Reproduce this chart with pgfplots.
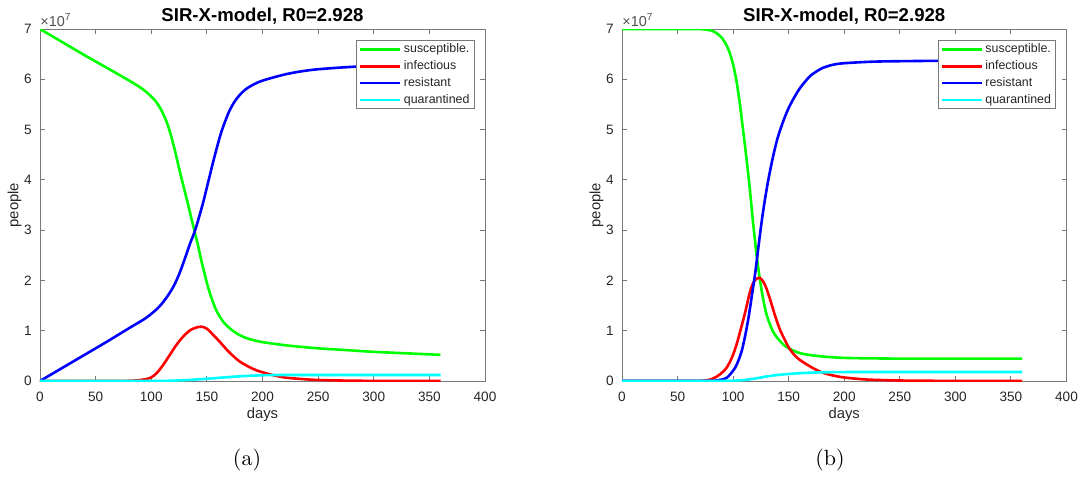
\documentclass[border=0pt]{standalone}
\usepackage{pgfplots}
\pgfplotsset{compat=1.18}
\usepackage{fontspec}
\setmainfont{Liberation Sans}
\newfontfamily\capfont{Latin Modern Roman}
\definecolor{txt}{RGB}{38,38,38}
\definecolor{boxc}{RGB}{120,120,120}
\definecolor{sgreen}{RGB}{0,255,0}
\definecolor{ired}{RGB}{255,0,0}
\definecolor{rblue}{RGB}{0,0,255}
\definecolor{qcyan}{RGB}{0,255,255}

\pgfplotsset{
  sir/.style={
    scale only axis, height=176pt, clip mode=individual,
    xmin=0, xmax=400, ymin=0, ymax=7,
    xtick={0,50,...,400}, ytick={0,1,...,7},
    tick align=inside, major tick length=2.5pt,
    axis line style={draw=boxc, line width=0.45pt},
    every tick/.style={boxc, line width=0.45pt},
    /pgf/number format/assume math mode=true,
    ticklabel style={font=\fontsize{6.8}{8}\selectfont, text=txt},
    xticklabel style={yshift=-2.2pt},
    yticklabel style={xshift=-0.6pt},
    xlabel={days}, ylabel={people},
    label style={font=\fontsize{7.4}{9}\selectfont, text=txt},
    xlabel style={at={(axis description cs:0.5,-0.096)}, anchor=center},
    ylabel style={at={(axis description cs:-0.057,0.5)}, anchor=center},
    title={SIR-X-model, R0=2.928},
    every axis title/.style={font=\bfseries\fontsize{9.3}{11}\selectfont, text=black,
      at={(axis description cs:0.5,1.037)}, anchor=center},
    legend cell align=left,
    legend image code/.code={\draw[#1] (0pt,0pt) -- (20pt,0pt);},
    legend style={at={(axis description cs:1,1)}, anchor=north east,
      xshift=-5.15pt, yshift=-5.5pt, draw=boxc, line width=0.45pt,
      font=\fontsize{6.2}{7}\selectfont, text=txt, inner xsep=1.2pt, inner ysep=0.3pt,
      nodes={text height=4.6pt, text depth=1.4pt, inner ysep=1.2pt, inner xsep=1.2pt}},
    every axis plot/.append style={line width=1.3pt},
  }
}

\begin{document}
\begin{tikzpicture}
\useasboundingbox (0,0) rectangle (540.5pt,239.5pt);

% (a)
\begin{axis}[sir, width=222.5pt, at={(20pt,49pt)}, anchor=south west]
\addplot[sgreen, smooth] coordinates {
 (0,7.0)(20,6.74)(40,6.48)(60,6.23)(75,6.04)(85,5.91)(92,5.81)(98,5.70)
 (103,5.59)(108,5.43)(113,5.20)(117,4.94)(121,4.61)(125,4.23)(129,3.87)
 (133,3.52)(136,3.24)(139,2.97)(142,2.70)(145,2.40)(148,2.13)(151,1.87)
 (155,1.60)(159,1.38)(165,1.17)(171,1.04)(178,0.93)(186,0.85)(196,0.79)
 (207,0.75)(225,0.70)(250,0.65)(275,0.615)(300,0.58)(330,0.55)(360,0.52)};
\addplot[ired, smooth] coordinates {
 (0,0)(60,0)(80,0.005)(90,0.02)(99,0.06)(105,0.16)(111,0.33)(117,0.53)
 (123,0.73)(129,0.89)(135,1.01)(140,1.06)(145,1.08)(150,1.04)(156,0.91)
 (162,0.77)(168,0.62)(174,0.49)(180,0.38)(188,0.28)(195,0.21)(207,0.13)
 (220,0.07)(235,0.04)(250,0.02)(275,0.008)(300,0.003)(360,0)};
\addplot[rblue, smooth] coordinates {
 (0,0)(20,0.26)(40,0.52)(60,0.78)(80,1.05)(95,1.25)(105,1.43)(110,1.55)
 (115,1.70)(120,1.88)(125,2.12)(130,2.42)(135,2.74)(139,2.97)(143,3.26)
 (147,3.58)(150,3.85)(153,4.12)(156,4.39)(159,4.64)(162,4.88)(165,5.08)
 (170,5.36)(175,5.56)(180,5.70)(186,5.82)(196,5.94)(207,6.02)(225,6.12)
 (250,6.20)(300,6.27)(360,6.30)};
\addplot[qcyan, smooth] coordinates {
 (0,0)(100,0)(115,0.005)(125,0.012)(135,0.022)(150,0.045)(165,0.07)
 (180,0.095)(195,0.11)(207,0.118)(230,0.12)(260,0.12)(360,0.12)};
\legend{susceptible., infectious, resistant, quarantined}
\node[anchor=south west, inner sep=0pt, text=txt!80, font=\fontsize{7.2}{8}\selectfont]
  at (rel axis cs:0,1) [yshift=1.2pt] {×10\textsuperscript{7}};
\end{axis}

% (b)
\begin{axis}[sir, width=222.25pt, at={(311pt,49pt)}, anchor=south west]
\addplot[sgreen, smooth] coordinates {
 (0,7.0)(60,7.0)(73,6.995)(80,6.97)(85,6.92)(90,6.82)(94,6.68)(97,6.52)
 (100,6.29)(103,5.97)(106,5.52)(109,4.98)(112,4.43)(115,3.82)(118,3.14)
 (121,2.53)(124,2.03)(127,1.63)(130,1.33)(133,1.13)(136,0.98)(140,0.85)
 (145,0.73)(150,0.65)(160,0.555)(175,0.50)(200,0.46)(250,0.445)(300,0.445)(360,0.445)};
\addplot[ired, smooth] coordinates {
 (0,0)(60,0)(75,0.01)(82,0.05)(88,0.13)(94,0.26)(99,0.47)(103,0.72)
 (107,1.04)(111,1.38)(115,1.76)(118,1.95)(121,2.03)(124,2.05)(127,1.98)
 (130,1.84)(134,1.57)(138,1.28)(142,1.03)(146,0.84)(150,0.67)(155,0.52)
 (160,0.42)(170,0.28)(180,0.17)(190,0.11)(200,0.07)(220,0.03)(250,0.01)(300,0.002)(360,0)};
\addplot[rblue, smooth] coordinates {
 (0,0)(75,0)(82,0.005)(88,0.02)(94,0.06)(98,0.15)(102,0.27)(105,0.42)
 (108,0.62)(111,0.92)(114,1.28)(117,1.72)(120,2.17)(123,2.71)(126,3.22)
 (129,3.66)(132,4.04)(136,4.47)(140,4.83)(145,5.16)(150,5.43)(155,5.64)
 (160,5.82)(165,5.96)(170,6.08)(180,6.22)(190,6.29)(200,6.32)(225,6.35)(250,6.36)(300,6.37)(360,6.37)};
\addplot[qcyan, smooth] coordinates {
 (0,0)(90,0)(100,0.005)(110,0.02)(120,0.05)(130,0.09)(140,0.12)
 (150,0.14)(160,0.155)(175,0.17)(200,0.178)(250,0.18)(360,0.18)};
\legend{susceptible., infectious, resistant, quarantined}
\node[anchor=south west, inner sep=0pt, text=txt!80, font=\fontsize{7.2}{8}\selectfont]
  at (rel axis cs:0,1) [yshift=1.2pt] {×10\textsuperscript{7}};
\end{axis}

\node[font=\capfont\fontsize{11}{13}\selectfont] at (123.5pt,9.5pt) {(a)};
\node[font=\capfont\fontsize{11}{13}\selectfont] at (415pt,9.5pt) {(b)};
\end{tikzpicture}
\end{document}
